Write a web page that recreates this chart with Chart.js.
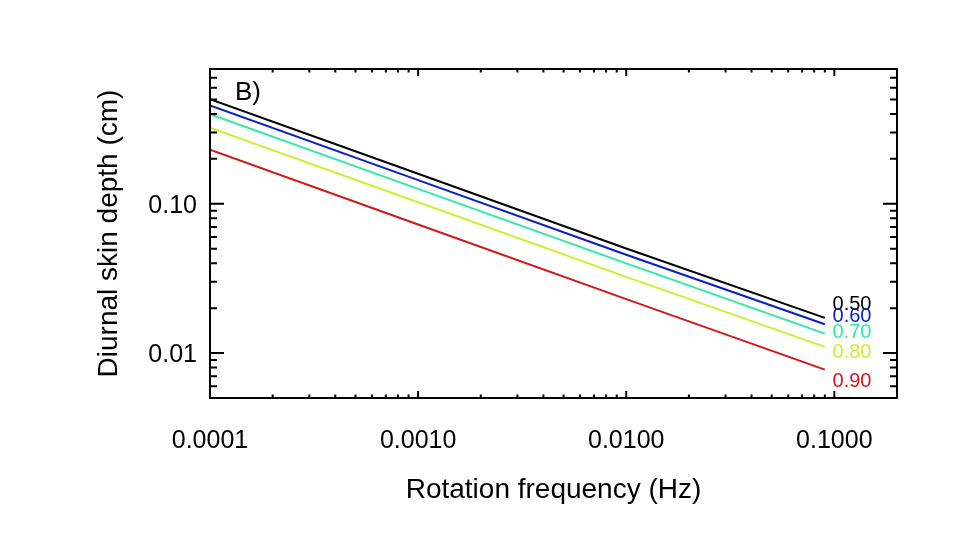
<!DOCTYPE html>
<html>
<head>
<meta charset="utf-8">
<script src="https://cdn.jsdelivr.net/npm/chart.js@4/dist/chart.umd.min.js"></script>
<style>
  html, body { margin: 0; padding: 0; background: #ffffff; }
  #wrap { width: 960px; height: 540px; }
</style>
</head>
<body>
<div id="wrap"><canvas id="c" width="960" height="540"></canvas></div>
<script>
// ---- data ----
const freq = [0.0001, 0.001, 0.01, 0.09];
const depth050 = [0.502, 0.159, 0.0502, 0.0172];
const depth060 = [0.456, 0.144, 0.0456, 0.0156];
const depth070 = [0.399, 0.126, 0.0399, 0.0135];
const depth080 = [0.324, 0.1025, 0.0324, 0.0110];
const depth090 = [0.230, 0.0727, 0.0230, 0.00775];
const seriesNames = ['0.50', '0.60', '0.70', '0.80', '0.90'];
const seriesColors = ['#000000', '#0a1ec8', '#30e8a8', '#ccf030', '#d01818'];
const labelFreq = 0.098;
const labelDepth = [0.02115, 0.01766, 0.01381, 0.01015, 0.0065];
const xTickValues = [0.0001, 0.001, 0.01, 0.1];
const yTickValues = [0.01, 0.1];
const xRange = [0.0001, 0.2];
const yRange = [0.005, 0.8];
const panelLabel = 'B)';
const xTitle = 'Rotation frequency (Hz)';
const yTitle = 'Diurnal skin depth (cm)';

const allDepths = [depth050, depth060, depth070, depth080, depth090];
const FONT = "'Liberation Sans', Arial, Helvetica, sans-serif";

const datasets = allDepths.map((d, i) => ({
  label: seriesNames[i],
  data: freq.map((f, j) => ({ x: f, y: d[j] })),
  borderColor: seriesColors[i],
  backgroundColor: seriesColors[i],
  borderWidth: 2,
  pointRadius: 0,
  tension: 0,
  fill: false
}));

function minorValues(lo, hi) {
  const out = [];
  for (let e = Math.floor(Math.log10(lo)); e <= Math.ceil(Math.log10(hi)); e++) {
    for (let m = 1; m <= 9; m++) {
      const v = m * Math.pow(10, e);
      if (v > lo * 1.0001 && v < hi * 0.9999) out.push({ v, major: m === 1 });
    }
  }
  return out;
}

const framePlugin = {
  id: 'frame',
  afterDatasetsDraw(chart) {
    const { ctx, chartArea: a, scales: { x, y } } = chart;
    ctx.save();
    ctx.strokeStyle = '#000';
    ctx.lineWidth = 2;
    ctx.lineCap = 'butt';
    ctx.strokeRect(a.left, a.top, a.right - a.left, a.bottom - a.top);
    ctx.beginPath();
    minorValues(xRange[0], xRange[1]).forEach(t => {
      const px = x.getPixelForValue(t.v);
      const len = t.major ? 7 : 3.5;
      ctx.moveTo(px, a.bottom); ctx.lineTo(px, a.bottom - len);
      ctx.moveTo(px, a.top); ctx.lineTo(px, a.top + len);
    });
    minorValues(yRange[0], yRange[1]).forEach(t => {
      const py = y.getPixelForValue(t.v);
      const len = t.major ? 14 : 7;
      ctx.moveTo(a.left, py); ctx.lineTo(a.left + len, py);
      ctx.moveTo(a.right, py); ctx.lineTo(a.right - len, py);
    });
    ctx.stroke();

    // panel label
    ctx.fillStyle = '#000';
    ctx.font = '26px ' + FONT;
    ctx.textAlign = 'left';
    ctx.textBaseline = 'alphabetic';
    ctx.fillText(panelLabel, a.left + 25, a.top + 31);

    // series labels
    ctx.font = '20px ' + FONT;
    ctx.textBaseline = 'middle';
    seriesNames.forEach((n, i) => {
      ctx.fillStyle = seriesColors[i];
      ctx.fillText(n, x.getPixelForValue(labelFreq), y.getPixelForValue(labelDepth[i]));
    });
    ctx.restore();
  }
};

new Chart(document.getElementById('c'), {
  type: 'line',
  data: { datasets },
  options: {
    responsive: false,
    animation: false,
    devicePixelRatio: 1,
    layout: { padding: { left: 0, right: 63, top: 69, bottom: 0 } },
    plugins: { legend: { display: false }, tooltip: { enabled: false } },
    scales: {
      x: {
        type: 'logarithmic',
        position: 'bottom',
        min: xRange[0],
        max: xRange[1],
        grid: { display: false, drawTicks: false },
        border: { display: false },
        afterBuildTicks(s) { s.ticks = xTickValues.map(v => ({ value: v })); },
        afterFit(s) { s.height = 142; },
        ticks: {
          autoSkip: false,
          maxRotation: 0,
          padding: 28,
          color: '#000',
          font: { family: FONT, size: 25 },
          callback: v => Number(v).toFixed(4)
        },
        title: {
          display: true,
          text: xTitle,
          color: '#000',
          font: { family: FONT, size: 28 },
          padding: { top: 0, bottom: 33 }
        }
      },
      y: {
        type: 'logarithmic',
        position: 'left',
        min: yRange[0],
        max: yRange[1],
        grid: { display: false, drawTicks: false },
        border: { display: false },
        afterBuildTicks(s) { s.ticks = yTickValues.map(v => ({ value: v })); },
        afterFit(s) { s.width = 210; },
        ticks: {
          autoSkip: false,
          padding: 13,
          labelOffset: 2,
          color: '#000',
          font: { family: FONT, size: 25 },
          callback: v => Number(v).toFixed(2)
        },
        title: {
          display: true,
          text: yTitle,
          color: '#000',
          font: { family: FONT, size: 28 },
          padding: { top: 92, bottom: 0 }
        }
      }
    }
  },
  plugins: [framePlugin]
});
</script>
</body>
</html>
